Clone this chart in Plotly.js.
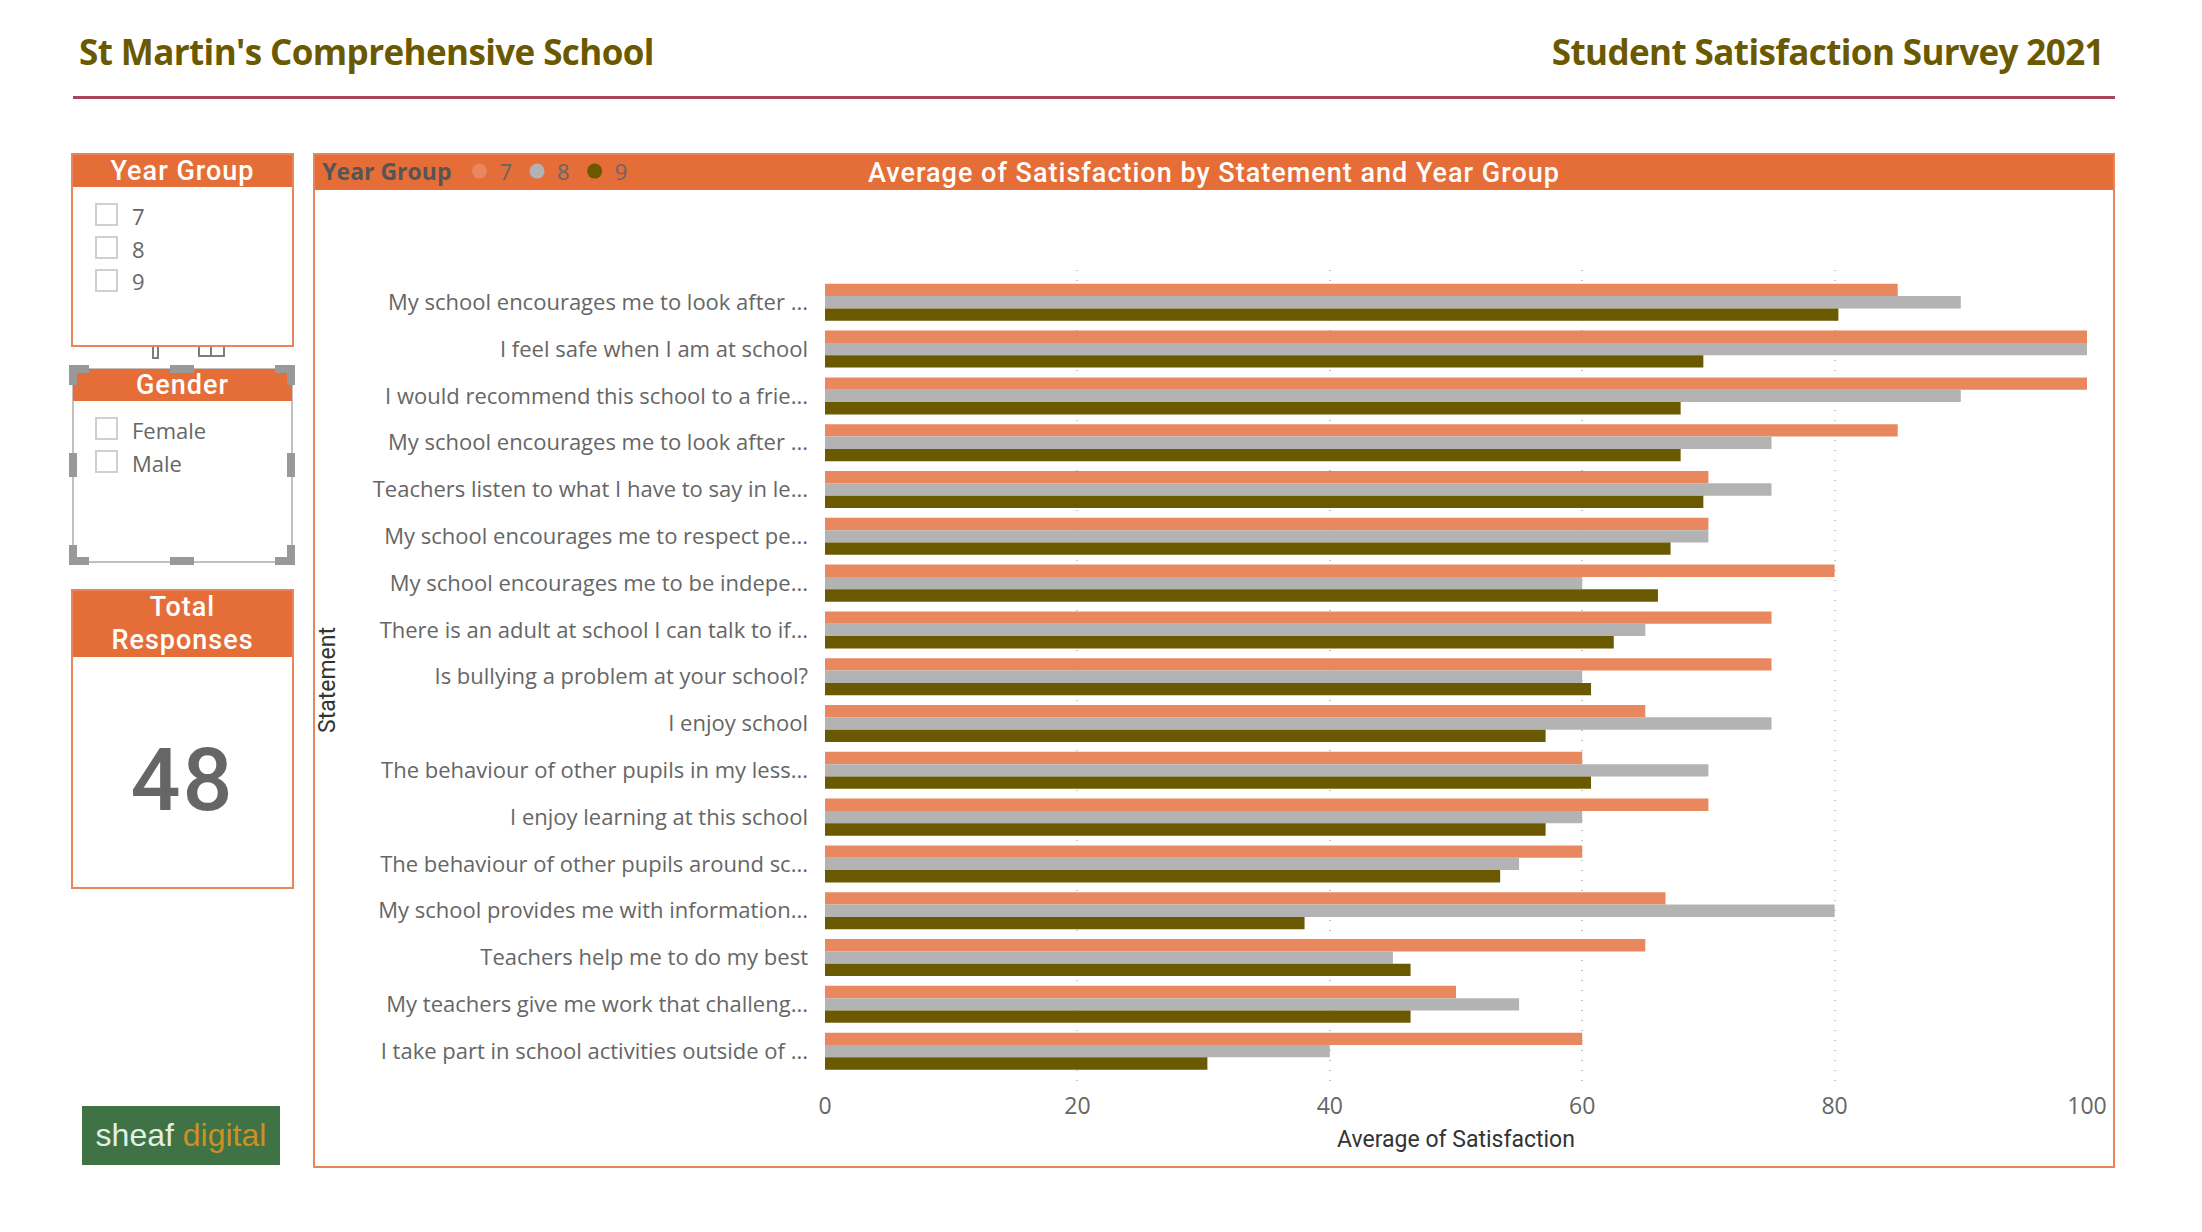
<!DOCTYPE html>
<html>
<head>
<meta charset="utf-8">
<script src="https://cdn.plot.ly/plotly-3.0.1.min.js"></script>
<style>
html,body{margin:0;padding:0;background:#fff;width:2202px;height:1232px;overflow:hidden}
#page{position:relative;width:2202px;height:1232px}
#page div{position:absolute;box-sizing:border-box}
.title{font:700 35px "Open Sans";color:#6b5900;white-space:nowrap;letter-spacing:-0.6px}
.rule{background:#a9475a}
.panel{border:2px solid #e8855a;background:#fff}
.head{background:#e56d38;color:#fff;font:500 27px/1.22 "Roboto";text-align:center;letter-spacing:1px}
.box{width:23px;height:23px;border:2px solid #ccd0d3;background:#fff}
.lbl{font:22px "Open Sans";color:#666;white-space:nowrap;line-height:23px}
.h{background:#999}
#chart{left:0;top:0;width:2202px;height:1232px}
</style>
</head>
<body>
<div id="page">
  <div class="title" style="left:79px;top:28px">St Martin's Comprehensive School</div>
  <div class="title" id="tr" style="right:98px;top:28px">Student Satisfaction Survey 2021</div>
  <div class="rule" style="left:73px;top:96px;width:2042px;height:3px"></div>

  <div class="panel" style="left:71px;top:153px;width:223px;height:194px"></div>
  <div class="head" style="left:73px;top:155px;width:219px;height:32px;line-height:32px">Year Group</div>
  <div class="box" style="left:95px;top:203px"></div><div class="lbl" style="left:132px;top:205px">7</div>
  <div class="box" style="left:95px;top:236px"></div><div class="lbl" style="left:132px;top:238px">8</div>
  <div class="box" style="left:95px;top:269px"></div><div class="lbl" style="left:132px;top:270px">9</div>

  <div style="left:152px;top:347px;width:7px;height:12px;border:2px solid #7d7d7d;border-top:0"></div>
  <div style="left:198px;top:347px;width:27px;height:10px;border:2px solid #7d7d7d;border-top:0"></div>
  <div style="left:210px;top:347px;width:2px;height:10px;background:#7d7d7d"></div>

  <div style="left:72px;top:368px;width:221px;height:195px;border:2px solid #c4c0be;background:#fff"></div>
  <div class="head" style="left:73px;top:369px;width:219px;height:32px;line-height:32px">Gender</div>
  <div class="box" style="left:95px;top:417px"></div><div class="lbl" style="left:132px;top:419px">Female</div>
  <div class="box" style="left:95px;top:450px"></div><div class="lbl" style="left:132px;top:452px">Male</div>
  <div class="h" style="left:69px;top:365px;width:20px;height:8px"></div><div class="h" style="left:69px;top:365px;width:8px;height:20px"></div>
  <div class="h" style="left:275px;top:365px;width:20px;height:8px"></div><div class="h" style="left:287px;top:365px;width:8px;height:20px"></div>
  <div class="h" style="left:69px;top:557px;width:20px;height:8px"></div><div class="h" style="left:69px;top:545px;width:8px;height:20px"></div>
  <div class="h" style="left:275px;top:557px;width:20px;height:8px"></div><div class="h" style="left:287px;top:545px;width:8px;height:20px"></div>
  <div class="h" style="left:170px;top:365px;width:24px;height:8px"></div><div class="h" style="left:170px;top:557px;width:24px;height:8px"></div>
  <div class="h" style="left:69px;top:453px;width:8px;height:24px"></div><div class="h" style="left:287px;top:453px;width:8px;height:24px"></div>

  <div class="panel" style="left:71px;top:589px;width:223px;height:300px"></div>
  <div class="head" style="left:73px;top:591px;width:219px;height:66px;line-height:33px">Total<br>Responses</div>
  <div style="left:73px;top:730px;width:219px;text-align:center;font:500 88px/100px Roboto;color:#666;letter-spacing:2px">48</div>

  <div style="left:82px;top:1106px;width:198px;height:59px;background:#3f7244;color:#e4efe4;font:32px/59px 'Liberation Sans';text-align:center;white-space:nowrap">sheaf <span style="color:#cf8f22">digital</span></div>

  <div class="panel" style="left:313px;top:153px;width:1802px;height:1015px"></div>
  <div class="head" style="left:315px;top:155px;width:1798px;height:35px;line-height:36px">Average of Satisfaction by Statement and Year Group</div>
  <div id="chart"></div>
</div>
<script>
const statements = [
  "My school encourages me to look after ...",
  "I feel safe when I am at school",
  "I would recommend this school to a frie...",
  "My school encourages me to look after ...",
  "Teachers listen to what I have to say in le...",
  "My school encourages me to respect pe...",
  "My school encourages me to be indepe...",
  "There is an adult at school I can talk to if...",
  "Is bullying a problem at your school?",
  "I enjoy school",
  "The behaviour of other pupils in my less...",
  "I enjoy learning at this school",
  "The behaviour of other pupils around sc...",
  "My school provides me with information...",
  "Teachers help me to do my best",
  "My teachers give me work that challeng...",
  "I take part in school activities outside of ..."
];
const year7 = [85,100,100,85,70,70,80,75,75,65,60,70,60,66.6,65,50,60];
const year8 = [90,100,90,75,75,70,60,65,60,75,70,60,55,80,45,55,40];
const year9 = [80.3,69.6,67.8,67.8,69.6,67,66,62.5,60.7,57.1,60.7,57.1,53.5,38,46.4,46.4,30.3];
const xTicks = [0,20,40,60,80,100];
const series = [["7",year7,"#e9875f"],["8",year8,"#b3b3b3"],["9",year9,"#6b5900"]];
const positions = statements.map((_, i) => i);

const traces = series.map(([name, vals, color]) => ({
  type: "bar", orientation: "h", name, x: vals, y: positions,
  marker: {color}, showlegend: false, hovertemplate: "%{x}<extra>" + name + "</extra>"
}));
series.forEach(([name, , color]) => traces.push({
  type: "scatter", mode: "markers", name, x: [null], y: [null],
  marker: {color, size: 15, symbol: "circle"}, showlegend: true
}));

const layout = {
  width: 2202, height: 1232,
  margin: {l: 825, r: 115, t: 270, b: 142, pad: 0},
  paper_bgcolor: "rgba(0,0,0,0)", plot_bgcolor: "rgba(0,0,0,0)",
  barmode: "group", bargap: 0.209, bargroupgap: 0,
  showlegend: true,
  legend: {
    orientation: "h", x: -0.4, xanchor: "left", y: 1.146, yanchor: "top",
    title: {text: "<b>Year Group</b>", font: {family: "Open Sans", size: 23, color: "#555"}, side: "left"},
    font: {family: "Open Sans", size: 22, color: "#666"},
    itemwidth: 30, tracegroupgap: 0, bgcolor: "rgba(0,0,0,0)"
  },
  xaxis: {
    range: [0, 100], tickvals: xTicks, ticktext: xTicks.map(String), ticks: "",
    showline: false, zeroline: false, showgrid: true, gridcolor: "#c4c4c4", gridwidth: 1.5, griddash: "1px,9px",
    tickfont: {family: "Open Sans", size: 23, color: "#666"},
    title: {text: "Average of Satisfaction", font: {family: "Roboto", size: 23, color: "#333"}, standoff: 10},
    automargin: false
  },
  yaxis: {
    range: [16.83, -0.69], tickmode: "array", tickvals: positions, ticktext: statements, ticks: "",
    ticklabelstandoff: 16, showline: false, zeroline: false, showgrid: false,
    tickfont: {family: "Open Sans", size: 22, color: "#666"},
    title: {text: "Statement", font: {family: "Roboto", size: 23, color: "#333"}, standoff: 30},
    automargin: false
  }
};
Plotly.newPlot("chart", traces, layout, {displayModeBar: false, responsive: false});
</script>
</body>
</html>
